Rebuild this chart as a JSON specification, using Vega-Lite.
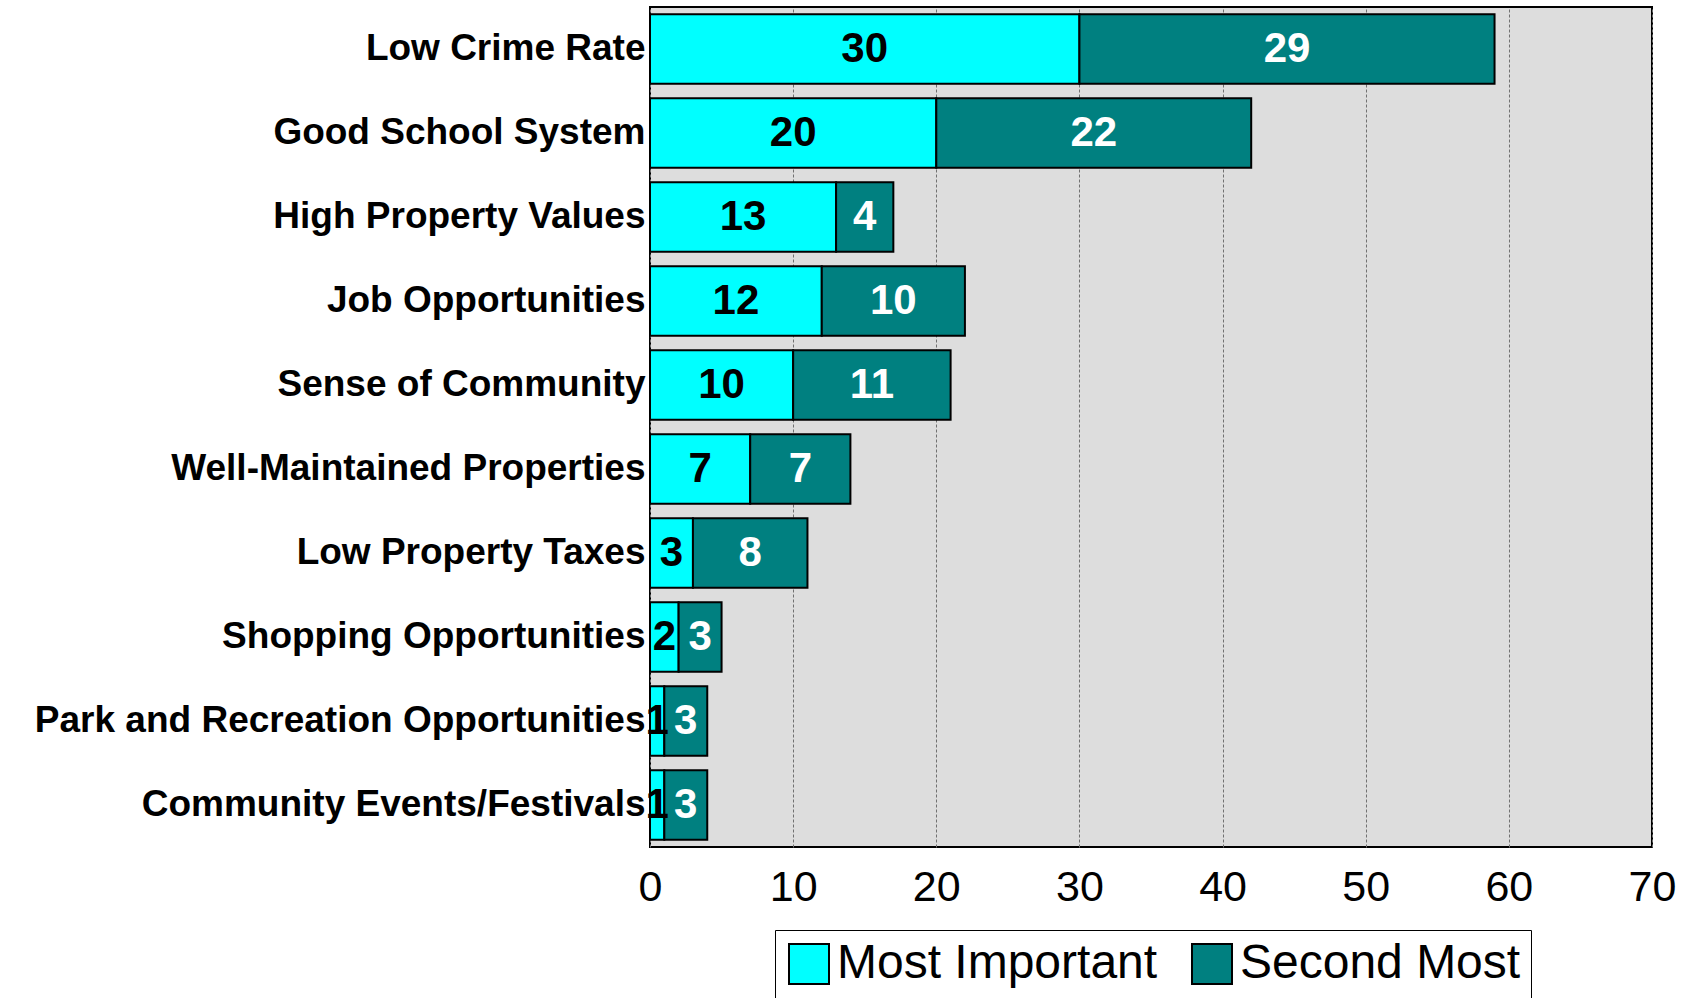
{
  "$schema": "https://vega.github.io/schema/vega-lite/v6.json",
  "autosize": {"type": "none"},
  "padding": {"left": 650, "top": 7, "right": 40, "bottom": 151},
  "width": 1002,
  "height": 840,
  "background": "white",
  "config": {
    "view": {"stroke": "black", "strokeWidth": 2, "fill": "#DDDDDD"},
    "font": "Liberation Sans"
  },
  "data": {
    "values": [
      {"item": "Low Crime Rate", "series": "Most Important", "value": 30},
      {"item": "Low Crime Rate", "series": "Second Most", "value": 29},
      {"item": "Good School System", "series": "Most Important", "value": 20},
      {"item": "Good School System", "series": "Second Most", "value": 22},
      {"item": "High Property Values", "series": "Most Important", "value": 13},
      {"item": "High Property Values", "series": "Second Most", "value": 4},
      {"item": "Job Opportunities", "series": "Most Important", "value": 12},
      {"item": "Job Opportunities", "series": "Second Most", "value": 10},
      {"item": "Sense of Community", "series": "Most Important", "value": 10},
      {"item": "Sense of Community", "series": "Second Most", "value": 11},
      {"item": "Well-Maintained Properties", "series": "Most Important", "value": 7},
      {"item": "Well-Maintained Properties", "series": "Second Most", "value": 7},
      {"item": "Low Property Taxes", "series": "Most Important", "value": 3},
      {"item": "Low Property Taxes", "series": "Second Most", "value": 8},
      {"item": "Shopping Opportunities", "series": "Most Important", "value": 2},
      {"item": "Shopping Opportunities", "series": "Second Most", "value": 3},
      {"item": "Park and Recreation Opportunities", "series": "Most Important", "value": 1},
      {"item": "Park and Recreation Opportunities", "series": "Second Most", "value": 3},
      {"item": "Community Events/Festivals", "series": "Most Important", "value": 1},
      {"item": "Community Events/Festivals", "series": "Second Most", "value": 3}
    ]
  },
  "transform": [
    {"stack": "value", "groupby": ["item"], "sort": [{"field": "series", "order": "ascending"}], "as": ["x0", "x1"]},
    {"calculate": "(datum.x0 + datum.x1) / 2", "as": "xmid"}
  ],
  "encoding": {
    "y": {
      "field": "item",
      "type": "nominal",
      "sort": null,
      "scale": {"paddingInner": 0.17, "paddingOuter": 0.085},
      "axis": {
        "title": null,
        "ticks": false,
        "domain": false,
        "labelFontSize": 37,
        "labelFontWeight": "bold",
        "labelColor": "black",
        "labelPadding": 5,
        "labelLimit": 700
      }
    }
  },
  "layer": [
    {
      "mark": {"type": "bar", "stroke": "black", "strokeWidth": 2},
      "encoding": {
        "x": {
          "field": "x0",
          "type": "quantitative",
          "scale": {"domain": [0, 70], "nice": false},
          "axis": {
            "title": null,
            "values": [0, 10, 20, 30, 40, 50, 60, 70],
            "ticks": false,
            "domain": false,
            "grid": true,
            "gridColor": "#707070",
            "gridDash": [3, 2],
            "gridWidth": 1,
            "labelFontSize": 43,
            "labelColor": "black",
            "labelPadding": 19,
            "labelFlush": false
          }
        },
        "x2": {"field": "x1"},
        "color": {
          "field": "series",
          "type": "nominal",
          "scale": {"domain": ["Most Important", "Second Most"], "range": ["#00FFFF", "#008080"]},
          "legend": {
            "title": null,
            "orient": "none",
            "direction": "horizontal",
            "legendX": 125,
            "legendY": 923,
            "strokeColor": "black",
            "fillColor": "white",
            "padding": 10,
            "symbolType": "square",
            "symbolSize": 1600,
            "symbolStrokeColor": "black",
            "symbolStrokeWidth": 2,
            "symbolOpacity": 1,
            "labelFontSize": 48,
            "labelColor": "black",
            "labelOffset": 4,
            "columnPadding": 30,
            "labelLimit": 400
          }
        }
      }
    },
    {
      "mark": {"type": "text", "fontSize": 42, "fontWeight": "bold", "align": "center", "baseline": "middle"},
      "encoding": {
        "x": {"field": "xmid", "type": "quantitative"},
        "text": {"field": "value", "type": "quantitative"},
        "fill": {
          "field": "series",
          "type": "nominal",
          "scale": {"domain": ["Most Important", "Second Most"], "range": ["black", "white"]},
          "legend": null
        }
      }
    }
  ]
}
